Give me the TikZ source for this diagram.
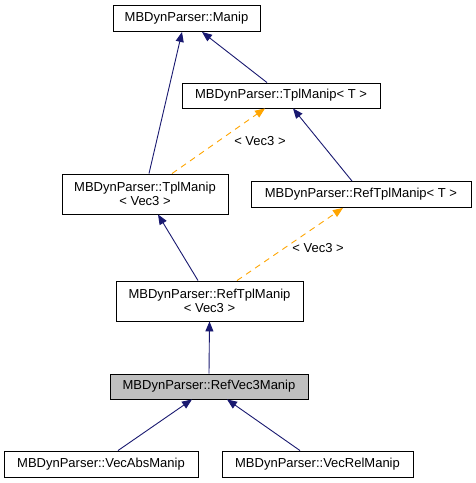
\documentclass[tikz,border=0pt]{standalone}
\usepackage{fontspec}
\setmainfont{Liberation Sans}
\usepackage{tikz}
\usetikzlibrary{arrows.meta}
\usepackage{xcolor}
\definecolor{edgeblue}{RGB}{25,25,112}
\definecolor{tmplorange}{RGB}{255,165,0}
\definecolor{focusgrey}{RGB}{191,191,191}

\begin{document}
\begin{tikzpicture}[x=1pt, y=-1pt,
    font=\fontsize{13}{14}\selectfont,
    cls/.style={draw=black, line width=0.9pt, fill=white, inner sep=0pt,
      align=center, minimum height=26pt},
    inh/.style={edgeblue, line width=0.9pt, -{Triangle[length=10pt,width=8pt]}},
    tmpl/.style={tmplorange, line width=0.9pt, dash pattern=on 6pt off 5pt,
      -{Triangle[length=10pt,width=8pt]}}]
    \useasboundingbox (0,0) rectangle (476,483);

    % Base classes
    \node[cls, minimum width=147pt] (manip) at (186.5,18.5) {MBDynParser::Manip};
    \node[cls, minimum width=198pt, minimum height=25pt] (tplT) at (281,95.5)
      {MBDynParser::TplManip< T >};

    % Template instances
    \node[cls, minimum width=166pt, minimum height=40pt] (tplV) at (145,194)
      {MBDynParser::TplManip\\< Vec3 >};
    \node[cls, minimum width=220pt] (refT) at (361,194.5)
      {MBDynParser::RefTplManip< T >};
    \node[cls, minimum width=187pt, minimum height=40pt] (refV) at (209.5,301)
      {MBDynParser::RefTplManip\\< Vec3 >};

    % Documented class and its children
    \node[cls, fill=focusgrey, minimum width=198pt, minimum height=25pt] (rv3)
      at (209,386.5) {MBDynParser::RefVec3Manip};
    \node[cls, minimum width=194pt] (abs) at (101,464) {MBDynParser::VecAbsManip};
    \node[cls, minimum width=191pt] (rel) at (317.5,464) {MBDynParser::VecRelManip};

    % Inheritance
    \draw[inh] ([xshift=4pt]tplV.north) -- ([xshift=-4.5pt]manip.south);
    \draw[inh] ([xshift=-14pt]tplT.north) -- ([xshift=15.5pt]manip.south);
    \draw[inh] ([xshift=-9pt]refT.north) -- ([xshift=12pt]tplT.south);
    \draw[inh] ([xshift=-11.5pt]refV.north) -- ([xshift=13pt]tplV.south);
    \draw[inh] (rv3.north) -- (refV.south);
    \draw[inh] ([xshift=17pt]abs.north) -- ([xshift=-17pt]rv3.south);
    \draw[inh] ([xshift=-17.5pt]rel.north) -- ([xshift=18pt]rv3.south);

    % Template bindings
    \draw[tmpl] ([xshift=27pt]tplV.north) -- ([xshift=-16pt]tplT.south)
      node[pos=0.5, right=12pt, text=black] (lblA) {< Vec3 >};
    \draw[tmpl] ([xshift=27.5pt]refV.north) -- ([xshift=-18pt]refT.south)
      node[pos=0.45, right=4pt, text=black] (lblB) {< Vec3 >};
  \end{tikzpicture}
\end{document}
